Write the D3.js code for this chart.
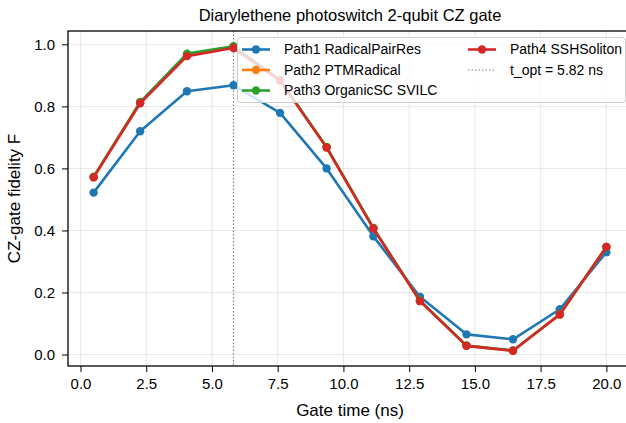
<!DOCTYPE html>
<html><head><meta charset="utf-8">
<script src="https://cdn.jsdelivr.net/npm/d3@7"></script>
<style>body{margin:0;background:#fff}svg{display:block}text{font-family:"Liberation Sans",Arial,sans-serif;fill:#000}</style>
</head><body>
<svg id="c" width="626" height="423"></svg>
<script>
const gateTimes = [0.5, 2.27, 4.05, 5.82, 7.59, 9.36, 11.14, 12.91, 14.68, 16.45, 18.23, 20.0];
const path1 = [0.522, 0.72, 0.849, 0.868, 0.779, 0.600, 0.381, 0.186, 0.065, 0.049, 0.146, 0.330];
const path2 = [0.572, 0.812, 0.966, 0.991, 0.884, 0.668, 0.407, 0.173, 0.028, 0.012, 0.129, 0.347];
const path3 = [0.573, 0.814, 0.970, 0.994, 0.885, 0.669, 0.408, 0.174, 0.029, 0.013, 0.130, 0.347];
const path4 = [0.571, 0.810, 0.962, 0.988, 0.883, 0.667, 0.406, 0.172, 0.028, 0.012, 0.129, 0.347];
const seriesNames = ["Path1 RadicalPairRes", "Path2 PTMRadical", "Path3 OrganicSC SVILC", "Path4 SSHSoliton"];
const seriesColors = ["#1f77b4", "#ff7f0e", "#2ca02c", "#d62728"];
const xTicks = [0, 2.5, 5, 7.5, 10, 12.5, 15, 17.5, 20];
const yTicks = [0, 0.2, 0.4, 0.6, 0.8, 1.0];
const tOpt = 5.82;

const svg = d3.select("#c");
const L = 68, R = 632, T = 31, B = 366;
const x = d3.scaleLinear().domain([-0.475, 20.975]).range([L, R]);
const y = d3.scaleLinear().domain([-0.037, 1.043]).range([B, T]);

// grid
const g = svg.append("g");
g.selectAll(".gx").data(xTicks).join("line")
  .attr("x1", d => x(d)).attr("x2", d => x(d)).attr("y1", T).attr("y2", B)
  .attr("stroke", "#b0b0b0").attr("stroke-opacity", 0.3).attr("stroke-width", 1);
g.selectAll(".gy").data(yTicks).join("line")
  .attr("y1", d => y(d)).attr("y2", d => y(d)).attr("x1", L).attr("x2", R)
  .attr("stroke", "#b0b0b0").attr("stroke-opacity", 0.3).attr("stroke-width", 1);

// axes
const xa = svg.append("g").attr("transform", `translate(0,${B})`)
  .call(d3.axisBottom(x).tickValues(xTicks).tickFormat(d3.format(".1f")).tickSize(6).tickPadding(6));
const ya = svg.append("g").attr("transform", `translate(${L},0)`)
  .call(d3.axisLeft(y).tickValues(yTicks).tickFormat(d3.format(".1f")).tickSize(6).tickPadding(7));
[xa, ya].forEach(a => {
  a.select(".domain").remove();
  a.selectAll("line").attr("stroke", "#000").attr("stroke-width", 1);
  a.selectAll("text").style("font-size", "15px").style("font-family", '"Liberation Sans",Arial,sans-serif').attr("fill", "#000");
});

// t_opt line
svg.append("line").attr("x1", x(tOpt)).attr("x2", x(tOpt)).attr("y1", T).attr("y2", B)
  .attr("stroke", "#808080").attr("stroke-width", 1.2).attr("stroke-dasharray", "1.5,2");

// series
const all = [path1, path2, path3, path4];
const line = d3.line().x((d, i) => x(gateTimes[i])).y(d => y(d));
all.forEach((vals, k) => {
  const s = svg.append("g");
  s.append("path").attr("d", line(vals)).attr("fill", "none")
    .attr("stroke", seriesColors[k]).attr("stroke-width", 2.6).attr("stroke-linejoin", "round");
  s.selectAll("circle").data(vals).join("circle")
    .attr("cx", (d, i) => x(gateTimes[i])).attr("cy", d => y(d)).attr("r", 4.2)
    .attr("fill", seriesColors[k]);
});

// spines
svg.append("rect").attr("x", L).attr("y", T).attr("width", R - L).attr("height", B - T)
  .attr("fill", "none").attr("stroke", "#000").attr("stroke-width", 1.3);

// legend
const lg = svg.append("g");
lg.append("rect").attr("x", 237.5).attr("y", 37.5).attr("width", 388).attr("height", 65).attr("rx", 3)
  .attr("fill", "#fff").attr("fill-opacity", 0.8).attr("stroke", "#cccccc").attr("stroke-width", 1);
const items = [
  {name: seriesNames[0], color: seriesColors[0], col: 0, row: 0},
  {name: seriesNames[1], color: seriesColors[1], col: 0, row: 1},
  {name: seriesNames[2], color: seriesColors[2], col: 0, row: 2},
  {name: seriesNames[3], color: seriesColors[3], col: 1, row: 0},
  {name: "t_opt = " + tOpt.toFixed(2) + " ns", color: "#808080", col: 1, row: 1, dotted: true}
];
const colX = [242, 468], rowY = [49.5, 70, 90.5];
items.forEach(it => {
  const x0 = colX[it.col], yy = rowY[it.row];
  if (it.dotted) {
    lg.append("line").attr("x1", x0).attr("x2", x0 + 28).attr("y1", yy).attr("y2", yy)
      .attr("stroke", it.color).attr("stroke-width", 1.2).attr("stroke-dasharray", "1.5,2");
  } else {
    lg.append("line").attr("x1", x0).attr("x2", x0 + 28).attr("y1", yy).attr("y2", yy)
      .attr("stroke", it.color).attr("stroke-width", 2.6);
    lg.append("circle").attr("cx", x0 + 14).attr("cy", yy).attr("r", 4.2).attr("fill", it.color);
  }
  lg.append("text").attr("x", x0 + 42).attr("y", yy).attr("dy", "0.35em")
    .style("font-size", "14px").text(it.name);
});

// labels
svg.append("text").attr("x", (L + R) / 2).attr("y", 15).attr("dy", "0.35em").attr("text-anchor", "middle")
  .style("font-size", "16.5px").text("Diarylethene photoswitch 2-qubit CZ gate");
svg.append("text").attr("x", (L + R) / 2).attr("y", 410).attr("dy", "0.35em").attr("text-anchor", "middle")
  .style("font-size", "17px").text("Gate time (ns)");
svg.append("text").attr("transform", `translate(14,${(T + B) / 2}) rotate(-90)`).attr("dy", "0.35em")
  .attr("text-anchor", "middle").style("font-size", "17px").text("CZ-gate fidelity F");
</script>
</body></html>
